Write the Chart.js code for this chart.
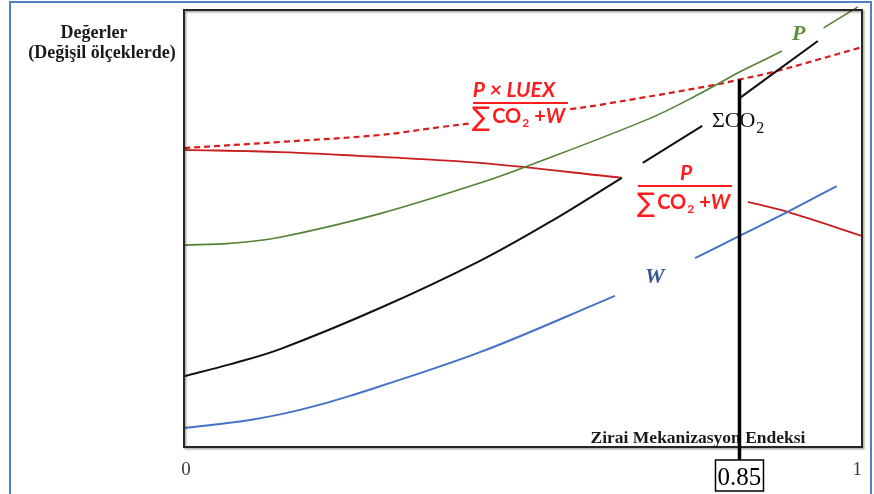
<!DOCTYPE html>
<html>
<head>
<meta charset="utf-8">
<script src="https://cdn.jsdelivr.net/npm/chart.js@4/dist/chart.umd.min.js"></script>
<style>
  html, body { margin: 0; padding: 0; background: #fff; overflow: hidden; }
  canvas { display: block; }
</style>
</head>
<body>
<canvas id="chart" width="874" height="494"></canvas>
<script>
// Index axis: mechanisation index from 0 to 1, with the marked level
const indexTicks = [0, 1];
const markerIndex = 0.85;
const markerLabel = '0.85';

// P (production) — values on a free, unitless scale
const pIndex  = [0, 0.07, 0.147, 0.300, 0.453, 0.526, 0.713, 0.790, 0.850, 0.863, 0.902, 0.920, 0.953, 0.995];
const pValues = [46.2, 46.6, 48.0, 53.4, 60.4, 64.3, 75.2, 80.9, 85.8, 87.0, 90.6, null, 95.9, 100.7];

// ΣCO2
const co2Index  = [0, 0.07, 0.147, 0.300, 0.453, 0.560, 0.670, 0.686, 0.702, 0.793, 0.820, 0.8506, 0.946];
const co2Values = [16.2, 18.9, 22.4, 31.8, 42.6, 51.5, 61.6, null, 65.0, 73.5, null, 79.9, 92.9];

// W
const wIndex  = [0, 0.101, 0.1775, 0.254, 0.453, 0.6595, 0.720, 0.782, 0.850, 0.909, 0.969];
const wValues = [4.35, 6.2, 8.5, 11.7, 21.7, 34.6, null, 43.2, 48.3, 53.8, 59.7];

// P / (ΣCO2 + W)
const ratioIndex  = [0, 0.147, 0.300, 0.453, 0.670, 0.750, 0.8604, 0.909, 1.0];
const ratioValues = [68.0, 67.5, 66.4, 65.0, 61.6, null, 56.1, 53.8, 48.3];

// P × LUEX / (ΣCO2 + W)
const luexIndex  = [0, 0.147, 0.300, 0.392, 0.441, 0.500, 0.591, 0.637, 0.810, 0.850, 0.891, 1.0];
const luexValues = [68.4, 69.8, 71.4, 73.2, 74.1, null, 77.3, 78.3, 82.8, 84.1, 85.8, 91.5];

// The marker rises from the axis up to the P × LUEX / (ΣCO2 + W) curve
const markerValue = luexValues[luexIndex.indexOf(markerIndex)];

// Share of the axis width that lies left of the marked index
const KNEE_AT = 0.8193;

class KneeScale extends Chart.LinearScale {
  static id = 'knee';
  static defaults = Chart.LinearScale.defaults;
  _kneeT() { return (markerIndex - this.min) / (this.max - this.min); }
  getPixelForValue(value) {
    const t = (value - this.min) / (this.max - this.min);
    const k = this._kneeT();
    const d = t <= k ? t / k * KNEE_AT : KNEE_AT + (t - k) / (1 - k) * (1 - KNEE_AT);
    return this.getPixelForDecimal(d);
  }
  getValueForPixel(pixel) {
    const d = this.getDecimalForPixel(pixel);
    const k = this._kneeT();
    const t = d <= KNEE_AT ? d / KNEE_AT * k : k + (d - KNEE_AT) / (1 - KNEE_AT) * (1 - k);
    return this.min + t * (this.max - this.min);
  }
}
Chart.register(KneeScale);

const toPoints = (xs, ys) => xs.map((x, i) => ({ x, y: ys[i] }));

const SERIF = '"Liberation Serif", "Times New Roman", serif';
const SANS = 'Lato, "Open Sans", sans-serif';
const RED_TEXT = '#ff1c1c';

function drawFraction(ctx, f) {
  ctx.save();
  ctx.fillStyle = RED_TEXT;
  ctx.strokeStyle = RED_TEXT;
  ctx.textBaseline = 'alphabetic';
  // numerator
  ctx.font = 'italic bold 21px ' + SANS;
  ctx.textAlign = 'center';
  ctx.fillText(f.num, f.numX, f.numY);
  // fraction bar
  ctx.lineWidth = 2;
  ctx.beginPath();
  ctx.moveTo(f.x0, f.barY);
  ctx.lineTo(f.x1, f.barY);
  ctx.stroke();
  // denominator: ∑CO2 + W
  ctx.textAlign = 'left';
  let x = f.x0;
  ctx.font = '27px "DejaVu Sans", sans-serif';
  ctx.fillText('\u2211', x - 1, f.denY + 3);
  x += ctx.measureText('\u2211').width + 1;
  ctx.font = 'bold 20px ' + SANS;
  ctx.fillText('CO', x, f.denY);
  x += ctx.measureText('CO').width + 1;
  ctx.font = 'bold 12px ' + SANS;
  ctx.fillText('2', x, f.denY + 4);
  x += ctx.measureText('2').width + 5;
  ctx.font = 'bold 20px ' + SANS;
  ctx.fillText('+', x, f.denY);
  x += ctx.measureText('+').width;
  ctx.font = 'italic bold 20px ' + SANS;
  ctx.fillText('W', x, f.denY);
  ctx.restore();
}

const decorations = {
  id: 'decorations',
  beforeDraw(chart) {
    const ctx = chart.ctx;
    ctx.save();
    ctx.fillStyle = '#ffffff';
    ctx.fillRect(0, 0, chart.width, chart.height);
    ctx.restore();
  },
  afterDatasetsDraw(chart) {
    const ctx = chart.ctx;
    const area = chart.chartArea;
    const xs = chart.scales.x;
    const ys = chart.scales.y;

    // page frame
    ctx.save();
    ctx.strokeStyle = '#4f81c7';
    ctx.lineWidth = 2;
    ctx.strokeRect(10, 2, 861, 520);
    ctx.restore();

    // plot frame
    ctx.save();
    ctx.shadowColor = 'rgba(0,0,0,0.35)';
    ctx.shadowOffsetX = 1.5;
    ctx.shadowOffsetY = 1.5;
    ctx.shadowBlur = 1.5;
    ctx.strokeStyle = '#262626';
    ctx.lineWidth = 2;
    ctx.strokeRect(area.left, area.top, area.right - area.left, area.bottom - area.top);
    ctx.restore();

    // value-axis title
    ctx.save();
    ctx.fillStyle = '#1a1a1a';
    ctx.font = 'bold 18px ' + SERIF;
    ctx.textAlign = 'center';
    ctx.fillText('Değerler', 94, 38);
    ctx.fillText('(Değişil ölçeklerde)', 102, 58);

    // index-axis title
    ctx.font = 'bold 17.5px ' + SERIF;
    ctx.fillText('Zirai Mekanizasyon Endeksi', 698, 443);

    // index ticks
    ctx.fillStyle = '#3a3a3a';
    ctx.font = '19px ' + SERIF;
    indexTicks.forEach((t, i) => {
      const last = i === indexTicks.length - 1;
      ctx.textAlign = last ? 'right' : 'center';
      ctx.fillText(String(t), xs.getPixelForValue(t) + (last ? 0 : 2), 475);
    });
    ctx.restore();

    // marker line and its boxed label
    const mx = xs.getPixelForValue(markerIndex);
    const boxTop = 460, boxH = 31, boxW = 48;
    ctx.save();
    ctx.strokeStyle = '#000';
    ctx.lineWidth = 3.5;
    ctx.beginPath();
    ctx.moveTo(mx, ys.getPixelForValue(markerValue));
    ctx.lineTo(mx, boxTop);
    ctx.stroke();
    ctx.fillStyle = '#fff';
    ctx.fillRect(mx - boxW / 2, boxTop, boxW, boxH);
    ctx.lineWidth = 1.5;
    ctx.strokeRect(mx - boxW / 2, boxTop, boxW, boxH);
    ctx.fillStyle = '#000';
    ctx.font = '25px ' + SERIF;
    ctx.textAlign = 'center';
    ctx.fillText(markerLabel, mx, 485);
    ctx.restore();

    // curve labels
    ctx.save();
    ctx.textAlign = 'left';
    ctx.fillStyle = '#5e8f3c';
    ctx.font = 'italic bold 22px ' + SERIF;
    ctx.fillText('P', 792, 40);

    ctx.fillStyle = '#34598a';
    ctx.fillText('W', 645, 283);

    ctx.fillStyle = '#111';
    ctx.font = '22px ' + SERIF;
    ctx.fillText('ΣCO', 712, 127);
    const w = ctx.measureText('ΣCO').width;
    ctx.font = '16px ' + SERIF;
    ctx.fillText('2', 712 + w + 1, 133);
    ctx.restore();

    drawFraction(ctx, { num: 'P × LUEX', numX: 514, numY: 97, x0: 473, x1: 568, barY: 103, denY: 123 });
    drawFraction(ctx, { num: 'P', numX: 686, numY: 180, x0: 638, x1: 732, barY: 186, denY: 209 });
  }
};

const lineStyle = {
  pointRadius: 0,
  pointHoverRadius: 0,
  fill: false,
  spanGaps: false,
  tension: 0.35
};

new Chart(document.getElementById('chart'), {
  type: 'line',
  data: {
    datasets: [
      { label: 'P', data: toPoints(pIndex, pValues), borderColor: '#548235', borderWidth: 1.6, clip: false, ...lineStyle },
      { label: 'ΣCO2', data: toPoints(co2Index, co2Values), borderColor: '#111111', borderWidth: 2, ...lineStyle },
      { label: 'W', data: toPoints(wIndex, wValues), borderColor: '#4472c4', borderWidth: 2, ...lineStyle },
      { label: 'P / (ΣCO2 + W)', data: toPoints(ratioIndex, ratioValues), borderColor: '#c81e1e', borderWidth: 1.8, ...lineStyle },
      { label: 'P × LUEX / (ΣCO2 + W)', data: toPoints(luexIndex, luexValues), borderColor: '#d91c1c', borderWidth: 2.2, borderDash: [6, 4], ...lineStyle }
    ]
  },
  options: {
    responsive: false,
    animation: false,
    events: [],
    layout: { padding: { left: 184, right: 12, top: 10, bottom: 47 } },
    scales: {
      x: { type: 'knee', min: 0, max: 1, display: false },
      y: { type: 'linear', min: 0, max: 100, display: false }
    },
    plugins: {
      legend: { display: false },
      tooltip: { enabled: false }
    }
  },
  plugins: [decorations]
});
</script>
</body>
</html>
